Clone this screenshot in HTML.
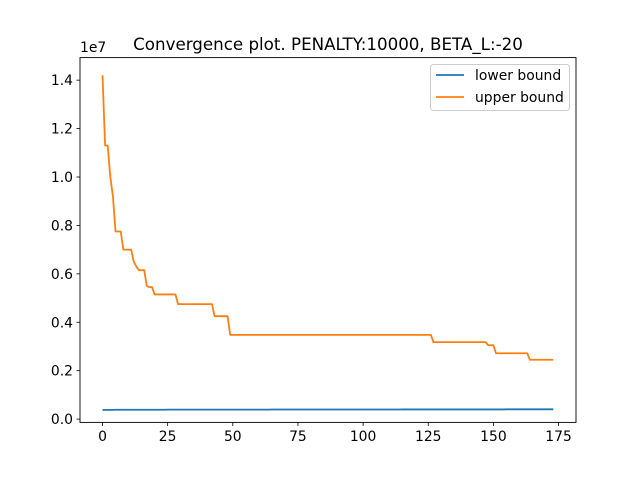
<!DOCTYPE html>
<html><head><meta charset="utf-8"><style>
body{margin:0;background:#fff;}
svg{display:block;font-family:"DejaVu Sans","Liberation Sans",sans-serif;}
</style></head><body>
<svg id="chart" width="640" height="480">
<rect width="640" height="480" fill="#fff"/>
<text x="328" y="50" text-anchor="middle" font-size="16.7">Convergence plot. PENALTY:10000, BETA_L:-20</text>
<g id="plot"></g>
<rect x="80" y="57.6" width="496" height="364.8" fill="none" stroke="#000" stroke-width="0.9"/>
<text x="80" y="52" font-size="13.9">1e7</text>
<g>
<rect x="430.5" y="64.5" width="139" height="46" rx="3" fill="#fff" stroke="#ccc"/>
<g><line x1="436" y1="75" x2="464" y2="75" stroke="#1f77b4" stroke-width="1.8"/><text x="475" y="80" font-size="13.9">lower bound</text></g>
<g><line x1="436" y1="97" x2="464" y2="97" stroke="#ff7f0e" stroke-width="1.8"/><text x="475" y="102" font-size="13.9">upper bound</text></g>
</g>
</svg>
<script>
// run-length data: [value (x1e7), count]
const upperRuns = [[1.42,1],[1.13,2],[1.0,1],[0.92,1],[0.775,3],[0.70,4],[0.65,1],[0.63,1],[0.615,3],[0.55,1],[0.545,2],[0.515,9],[0.475,14],[0.425,6],[0.348,78],[0.318,21],[0.305,3],[0.272,13],[0.245,10]];
const lowerRuns = [[0.037,1],[0.038,4],[0.0385,20],[0.039,40],[0.0395,50],[0.040,40],[0.0405,19]];
const xTicks = [0,25,50,75,100,125,150,175];
const yTicks = [0.0,0.2,0.4,0.6,0.8,1.0,1.2,1.4];
function expand(runs){const a=[];runs.forEach(r=>{for(let i=0;i<r[1];i++)a.push(r[0]);});return a;}
const upper = expand(upperRuns), lower = expand(lowerRuns);
const X = v => 102.5 + v*2.606;
const Y = v => 419.1 - v*242.1;
const g = document.getElementById('plot');
const NS='http://www.w3.org/2000/svg';
function el(t,a){const e=document.createElementNS(NS,t);for(const k in a)e.setAttribute(k,a[k]);g.appendChild(e);return e;}
xTicks.forEach(t=>{
  const l=el('line',{x1:X(t),x2:X(t),y1:422.4,y2:426,stroke:'#000','stroke-width':0.8});
  
  
  const tx=el('text',{x:X(t),y:441,'text-anchor':'middle','font-size':13.9});
  tx.textContent=t;
  
  
});
yTicks.forEach(t=>{
  const l=el('line',{x1:76.5,x2:80,y1:Y(t),y2:Y(t),stroke:'#000','stroke-width':0.8});
  
  
  const tx=el('text',{x:73,y:Y(t)+5,'text-anchor':'end','font-size':13.9});
  tx.textContent=t.toFixed(1);
  
  
});
function line(d,c,name){
  const p=el('polyline',{points:d.map((v,i)=>X(i)+','+Y(v)).join(' '),fill:'none',stroke:c,'stroke-width':1.8,'stroke-linejoin':'round'});
  
  
}
line(lower,'#1f77b4','lower-bound-line');
line(upper,'#ff7f0e','upper-bound-line');
</script>
</body></html>
